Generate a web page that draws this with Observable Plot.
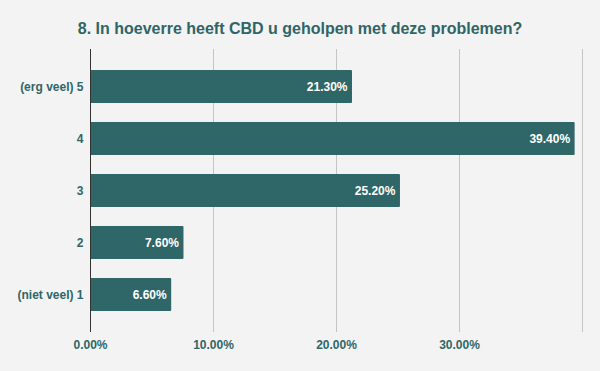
<!DOCTYPE html>
<html>
<head>
<meta charset="utf-8">
<script src="https://cdn.jsdelivr.net/npm/d3@7"></script>
<script src="https://cdn.jsdelivr.net/npm/@observablehq/plot@0.6"></script>
<style>
  html, body { margin: 0; padding: 0; background: #f3f3f3; }
  #wrap { width: 600px; height: 371px; background: #f3f3f3; }
  #title { height: 40px; box-sizing: border-box; padding-top: 20px; line-height: 16px;
    font: bold 16px "Liberation Sans", Arial, sans-serif; color: #2f6566; text-align: center; }
  svg { display: block; }
</style>
</head>
<body>
<div id="wrap">
  <div id="title">8. In hoeverre heeft CBD u geholpen met deze problemen?</div>
  <div id="chart"></div>
</div>
<script>
const categories = ["(erg veel) 5", "4", "3", "2", "(niet veel) 1"];
const values = [0.213, 0.394, 0.252, 0.076, 0.066];
const gridTicks = [0.1, 0.2, 0.3, 0.4];
const labelTicks = [0, 0.1, 0.2, 0.3];

const data = categories.map((c, i) => ({ cat: c, v: values[i] }));
const teal = "#2f6667";
const fmt = d3.format(".2%");

const chart = Plot.plot({
  width: 600,
  height: 331,
  marginTop: 9,
  marginBottom: 39,
  marginLeft: 90,
  marginRight: 18,
  style: { background: "#f3f3f3", fontFamily: "'Liberation Sans', Arial, sans-serif" },
  x: { domain: [0, 0.4], axis: null },
  y: { domain: categories, paddingInner: 0.364, paddingOuter: 0.352, axis: null },
  marks: [
    Plot.ruleX(gridTicks, { stroke: "#c4c4c4", strokeWidth: 1 }),
    Plot.barX(data, { x: "v", y: "cat", fill: teal, rx: 1 }),
    Plot.ruleX([0], { stroke: "#333333", strokeWidth: 1 }),
    Plot.text(data, { x: "v", y: "cat", text: d => fmt(d.v), textAnchor: "end", dx: -5,
      fill: "white", fontWeight: "bold", fontSize: 12 }),
    Plot.axisY({ tickSize: 0, tickPadding: 7, fontSize: 12, fontWeight: "bold", color: teal, label: null }),
    Plot.axisX(labelTicks, { tickSize: 0, tickPadding: 8, fontSize: 12, fontWeight: "bold", color: teal,
      tickFormat: fmt, label: null })
  ]
});
document.getElementById("chart").appendChild(chart);
</script>
</body>
</html>
